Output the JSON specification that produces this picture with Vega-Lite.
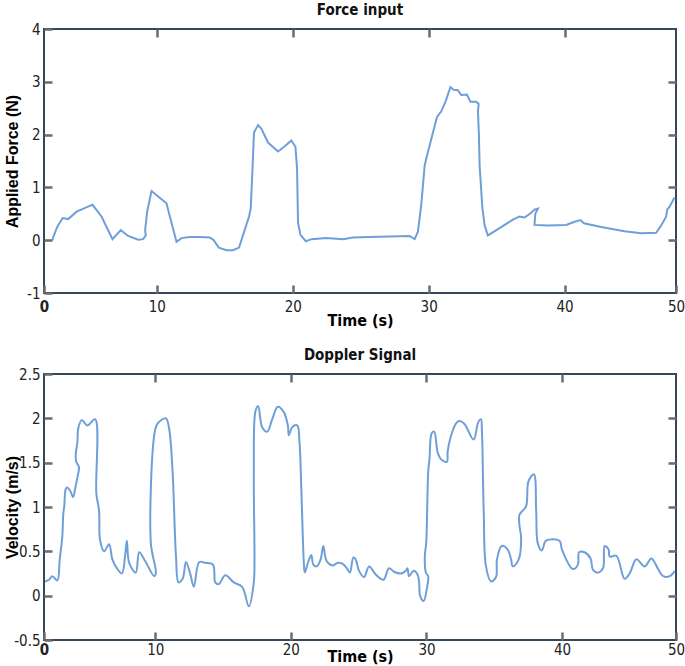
{
  "$schema": "https://vega.github.io/schema/vega-lite/v6.json",
  "padding": {"left": 3, "top": 2, "right": 0, "bottom": 0},
  "background": "white",
  "config": {
    "view": {"stroke": "#34485c", "strokeWidth": 2},
    "font": "DejaVu Sans Condensed",
    "axis": {
      "grid": false,
      "domain": false,
      "tickColor": "#6b6b6b",
      "tickWidth": 2.5,
      "tickSize": -8,
      "labelFont": "DejaVu Sans Condensed",
      "labelFontSize": 15,
      "labelColor": "#222222",
      "titleColor": "#000000"
    },
    "title": {"font": "DejaVu Sans Condensed", "fontSize": 15, "fontWeight": "bold", "color": "#111111", "frame": "group", "offset": 4}
  },
  "datasets": {
    "force": [
      {"i":0,"t":2.33,"v":0.0},{"i":1,"t":2.37,"v":0.05},{"i":2,"t":2.67,"v":0.25},{"i":3,"t":3.07,"v":0.42},{"i":4,"t":3.48,"v":0.40},{"i":5,"t":4.10,"v":0.54},{"i":6,"t":5.07,"v":0.65},{"i":7,"t":5.27,"v":0.67},{"i":8,"t":5.93,"v":0.45},{"i":9,"t":6.74,"v":0.02},{"i":10,"t":7.35,"v":0.19},{"i":11,"t":7.89,"v":0.08},{"i":12,"t":8.63,"v":0.01},{"i":13,"t":8.99,"v":0.02},{"i":14,"t":9.19,"v":0.09},{"i":15,"t":9.14,"v":0.19},{"i":16,"t":9.29,"v":0.54},{"i":17,"t":9.61,"v":0.93},{"i":18,"t":10.71,"v":0.70},{"i":19,"t":11.08,"v":0.33},{"i":20,"t":11.45,"v":-0.03},{"i":21,"t":11.82,"v":0.04},{"i":22,"t":12.43,"v":0.06},{"i":23,"t":13.16,"v":0.06},{"i":24,"t":13.90,"v":0.05},{"i":25,"t":14.19,"v":0.0},{"i":26,"t":14.56,"v":-0.14},{"i":27,"t":15.13,"v":-0.19},{"i":28,"t":15.61,"v":-0.19},{"i":29,"t":16.05,"v":-0.14},{"i":30,"t":16.35,"v":0.10},{"i":31,"t":16.79,"v":0.45},{"i":32,"t":16.91,"v":0.60},{"i":33,"t":17.04,"v":1.35},{"i":34,"t":17.15,"v":2.04},{"i":35,"t":17.45,"v":2.18},{"i":36,"t":17.70,"v":2.11},{"i":37,"t":18.18,"v":1.85},{"i":38,"t":18.92,"v":1.68},{"i":39,"t":19.41,"v":1.78},{"i":40,"t":19.90,"v":1.89},{"i":41,"t":20.20,"v":1.77},{"i":42,"t":20.32,"v":1.35},{"i":43,"t":20.39,"v":0.33},{"i":44,"t":20.57,"v":0.10},{"i":45,"t":20.96,"v":-0.02},{"i":46,"t":21.38,"v":0.02},{"i":47,"t":22.48,"v":0.04},{"i":48,"t":23.70,"v":0.02},{"i":49,"t":24.43,"v":0.05},{"i":50,"t":25.66,"v":0.06},{"i":51,"t":28.60,"v":0.08},{"i":52,"t":28.97,"v":0.02},{"i":53,"t":29.21,"v":0.16},{"i":54,"t":29.46,"v":0.68},{"i":55,"t":29.71,"v":1.42},{"i":56,"t":29.88,"v":1.60},{"i":57,"t":30.20,"v":1.92},{"i":58,"t":30.61,"v":2.33},{"i":59,"t":30.93,"v":2.44},{"i":60,"t":31.25,"v":2.63},{"i":61,"t":31.60,"v":2.90},{"i":62,"t":31.84,"v":2.85},{"i":63,"t":32.15,"v":2.84},{"i":64,"t":32.40,"v":2.75},{"i":65,"t":32.82,"v":2.76},{"i":66,"t":33.07,"v":2.62},{"i":67,"t":33.51,"v":2.62},{"i":68,"t":33.68,"v":2.58},{"i":69,"t":33.63,"v":2.44},{"i":70,"t":33.70,"v":1.98},{"i":71,"t":33.75,"v":1.42},{"i":72,"t":33.95,"v":0.62},{"i":73,"t":34.12,"v":0.28},{"i":74,"t":34.36,"v":0.09},{"i":75,"t":35.22,"v":0.23},{"i":76,"t":36.20,"v":0.39},{"i":77,"t":36.69,"v":0.45},{"i":78,"t":37.06,"v":0.43},{"i":79,"t":37.50,"v":0.51},{"i":80,"t":37.79,"v":0.58},{"i":81,"t":38.04,"v":0.60},{"i":82,"t":37.85,"v":0.50},{"i":83,"t":37.79,"v":0.29},{"i":84,"t":38.77,"v":0.28},{"i":85,"t":40.12,"v":0.29},{"i":86,"t":40.74,"v":0.35},{"i":87,"t":41.18,"v":0.38},{"i":88,"t":41.42,"v":0.32},{"i":89,"t":42.70,"v":0.25},{"i":90,"t":44.41,"v":0.17},{"i":91,"t":45.64,"v":0.13},{"i":92,"t":46.74,"v":0.14},{"i":93,"t":47.11,"v":0.28},{"i":94,"t":47.48,"v":0.45},{"i":95,"t":47.55,"v":0.58},{"i":96,"t":47.74,"v":0.64},{"i":97,"t":48.09,"v":0.81}
    ],
    "vel": [
      {"i":0,"t":1.87,"v":0.16},{"i":1,"t":2.17,"v":0.18},{"i":2,"t":2.41,"v":0.22},{"i":3,"t":2.78,"v":0.17},{"i":4,"t":2.96,"v":0.41},{"i":5,"t":3.15,"v":0.67},{"i":6,"t":3.22,"v":0.92},{"i":7,"t":3.30,"v":1.02},{"i":8,"t":3.40,"v":1.20},{"i":9,"t":3.52,"v":1.22},{"i":10,"t":3.77,"v":1.17},{"i":11,"t":3.94,"v":1.11},{"i":12,"t":4.14,"v":1.24},{"i":13,"t":4.31,"v":1.37},{"i":14,"t":4.38,"v":1.45},{"i":15,"t":4.18,"v":1.51},{"i":16,"t":4.14,"v":1.59},{"i":17,"t":4.26,"v":1.73},{"i":18,"t":4.33,"v":1.89},{"i":19,"t":4.58,"v":1.98},{"i":20,"t":5.00,"v":1.92},{"i":21,"t":5.57,"v":1.99},{"i":22,"t":5.66,"v":1.15},{"i":23,"t":5.86,"v":0.96},{"i":24,"t":5.93,"v":0.63},{"i":25,"t":6.23,"v":0.50},{"i":26,"t":6.60,"v":0.58},{"i":27,"t":6.84,"v":0.41},{"i":28,"t":7.17,"v":0.31},{"i":29,"t":7.54,"v":0.25},{"i":30,"t":7.78,"v":0.45},{"i":31,"t":7.91,"v":0.62},{"i":32,"t":8.08,"v":0.37},{"i":33,"t":8.57,"v":0.26},{"i":34,"t":8.82,"v":0.49},{"i":35,"t":9.26,"v":0.39},{"i":36,"t":9.93,"v":0.22},{"i":37,"t":10.05,"v":0.26},{"i":38,"t":9.68,"v":0.59},{"i":39,"t":9.93,"v":1.81},{"i":40,"t":10.17,"v":1.94},{"i":41,"t":10.79,"v":2.00},{"i":42,"t":11.03,"v":1.88},{"i":43,"t":11.28,"v":1.40},{"i":44,"t":11.53,"v":0.45},{"i":45,"t":11.72,"v":0.15},{"i":46,"t":12.02,"v":0.19},{"i":47,"t":12.27,"v":0.38},{"i":48,"t":12.56,"v":0.26},{"i":49,"t":12.85,"v":0.10},{"i":50,"t":13.25,"v":0.38},{"i":51,"t":13.70,"v":0.37},{"i":52,"t":14.26,"v":0.35},{"i":53,"t":14.43,"v":0.15},{"i":54,"t":14.68,"v":0.13},{"i":55,"t":15.17,"v":0.23},{"i":56,"t":15.79,"v":0.15},{"i":57,"t":16.41,"v":0.10},{"i":58,"t":16.90,"v":-0.12},{"i":59,"t":17.27,"v":0.15},{"i":60,"t":17.32,"v":0.37},{"i":61,"t":17.27,"v":1.40},{"i":62,"t":17.39,"v":2.08},{"i":63,"t":17.59,"v":2.14},{"i":64,"t":17.89,"v":1.90},{"i":65,"t":18.26,"v":1.85},{"i":66,"t":18.63,"v":1.99},{"i":67,"t":19.04,"v":2.13},{"i":68,"t":19.48,"v":2.07},{"i":69,"t":19.78,"v":1.92},{"i":70,"t":19.85,"v":1.81},{"i":71,"t":20.10,"v":1.90},{"i":72,"t":20.47,"v":1.92},{"i":73,"t":20.64,"v":1.73},{"i":74,"t":20.77,"v":1.22},{"i":75,"t":20.96,"v":0.37},{"i":76,"t":21.03,"v":0.26},{"i":77,"t":21.26,"v":0.37},{"i":78,"t":21.51,"v":0.46},{"i":79,"t":21.66,"v":0.35},{"i":80,"t":21.90,"v":0.33},{"i":81,"t":22.20,"v":0.41},{"i":82,"t":22.39,"v":0.56},{"i":83,"t":22.64,"v":0.39},{"i":84,"t":23.06,"v":0.34},{"i":85,"t":23.47,"v":0.37},{"i":86,"t":23.80,"v":0.36},{"i":87,"t":24.17,"v":0.30},{"i":88,"t":24.36,"v":0.26},{"i":89,"t":24.61,"v":0.43},{"i":90,"t":24.78,"v":0.41},{"i":91,"t":25.03,"v":0.28},{"i":92,"t":25.40,"v":0.21},{"i":93,"t":25.77,"v":0.33},{"i":94,"t":26.26,"v":0.24},{"i":95,"t":26.83,"v":0.18},{"i":96,"t":27.24,"v":0.31},{"i":97,"t":27.61,"v":0.27},{"i":98,"t":28.11,"v":0.25},{"i":99,"t":28.48,"v":0.28},{"i":100,"t":28.60,"v":0.31},{"i":101,"t":28.72,"v":0.22},{"i":102,"t":29.05,"v":0.28},{"i":103,"t":29.34,"v":0.24},{"i":104,"t":29.46,"v":0.15},{"i":105,"t":29.53,"v":0.0},{"i":106,"t":29.79,"v":-0.06},{"i":107,"t":30.03,"v":0.08},{"i":108,"t":30.13,"v":0.22},{"i":109,"t":29.96,"v":0.26},{"i":110,"t":29.88,"v":0.45},{"i":111,"t":29.98,"v":0.59},{"i":112,"t":30.13,"v":1.40},{"i":113,"t":30.23,"v":1.55},{"i":114,"t":30.38,"v":1.83},{"i":115,"t":30.57,"v":1.85},{"i":116,"t":30.82,"v":1.62},{"i":117,"t":31.06,"v":1.54},{"i":118,"t":31.51,"v":1.51},{"i":119,"t":31.56,"v":1.62},{"i":120,"t":31.75,"v":1.77},{"i":121,"t":32.17,"v":1.94},{"i":122,"t":32.42,"v":1.97},{"i":123,"t":32.79,"v":1.94},{"i":124,"t":33.48,"v":1.76},{"i":125,"t":33.82,"v":1.96},{"i":126,"t":34.02,"v":1.99},{"i":127,"t":34.09,"v":1.86},{"i":128,"t":34.22,"v":0.96},{"i":129,"t":34.39,"v":0.33},{"i":130,"t":34.76,"v":0.16},{"i":131,"t":35.13,"v":0.21},{"i":132,"t":35.20,"v":0.41},{"i":133,"t":35.55,"v":0.56},{"i":134,"t":35.99,"v":0.52},{"i":135,"t":36.24,"v":0.41},{"i":136,"t":36.36,"v":0.33},{"i":137,"t":36.78,"v":0.40},{"i":138,"t":36.98,"v":0.65},{"i":139,"t":36.85,"v":0.80},{"i":140,"t":36.85,"v":0.91},{"i":141,"t":36.98,"v":0.94},{"i":142,"t":37.35,"v":1.01},{"i":143,"t":37.52,"v":1.29},{"i":144,"t":37.92,"v":1.37},{"i":145,"t":38.09,"v":0.96},{"i":146,"t":38.21,"v":0.59},{"i":147,"t":38.51,"v":0.51},{"i":148,"t":38.82,"v":0.62},{"i":149,"t":39.81,"v":0.62},{"i":150,"t":39.99,"v":0.52},{"i":151,"t":40.80,"v":0.30},{"i":152,"t":41.17,"v":0.35},{"i":153,"t":41.25,"v":0.49},{"i":154,"t":41.66,"v":0.49},{"i":155,"t":42.10,"v":0.42},{"i":156,"t":42.28,"v":0.29},{"i":157,"t":42.65,"v":0.26},{"i":158,"t":43.02,"v":0.31},{"i":159,"t":43.14,"v":0.56},{"i":160,"t":43.43,"v":0.52},{"i":161,"t":43.51,"v":0.44},{"i":162,"t":44.00,"v":0.45},{"i":163,"t":44.61,"v":0.19},{"i":164,"t":44.98,"v":0.25},{"i":165,"t":45.48,"v":0.41},{"i":166,"t":46.09,"v":0.33},{"i":167,"t":46.59,"v":0.42},{"i":168,"t":47.08,"v":0.30},{"i":169,"t":47.45,"v":0.22},{"i":170,"t":47.94,"v":0.22},{"i":171,"t":48.31,"v":0.28}
    ]
  },
  "spacing": 18,
  "resolve": {"scale": {"x": "independent", "y": "independent"}},
  "vconcat": [
    {
      "title": {"text": "Force input"},
      "width": 632,
      "height": 264,
      "data": {"name": "force"},
      "resolve": {"axis": {"x": "independent", "y": "independent"}},
      "layer": [
        {
          "mark": {"type": "line", "color": "#6f9fd8", "strokeWidth": 2},
          "encoding": {
            "x": {"field": "t", "type": "quantitative",
              "scale": {"domain": [1.7, 48.2], "nice": false, "zero": false},
              "axis": {"orient": "bottom", "values": [1.7, 10, 20, 30, 40, 48.2],
                "labelExpr": "datum.value < 5 ? '0' : datum.value > 45 ? '50' : datum.label",
                "labelFlush": false, "labelOverlap": false, "labelPadding": 14,
                "labelFontWeight": {"condition": {"test": "datum.value < 5", "value": "bold"}, "value": "normal"},
                "title": "Time (s)", "titleFont": "DejaVu Sans Condensed", "titleFontSize": 16, "titleFontWeight": "bold",
                "titleY": 27, "titleBaseline": "middle"}},
            "y": {"field": "v", "type": "quantitative",
              "scale": {"domain": [-1, 4], "nice": false},
              "axis": {"orient": "left", "values": [-1, 0, 1, 2, 3, 4], "format": "~g",
                "labelExpr": "replace(datum.label, '−', '-')", "labelPadding": 12,
                "title": "Applied Force (N)", "titleFont": "Liberation Sans", "titleFontSize": 16, "titleFontWeight": "bold",
                "titleX": -32, "titleBaseline": "middle"}},
            "order": {"field": "i", "type": "quantitative"}
          }
        },
        {
          "mark": {"type": "line", "opacity": 0},
          "encoding": {
            "x": {"field": "t", "type": "quantitative",
              "axis": {"orient": "top", "values": [10, 20, 30, 40], "labels": false, "title": null}},
            "y": {"field": "v", "type": "quantitative",
              "axis": {"orient": "right", "values": [0, 1, 2, 3], "labels": false, "title": null}},
            "order": {"field": "i", "type": "quantitative"}
          }
        }
      ]
    },
    {
      "title": {"text": "Doppler Signal"},
      "width": 632,
      "height": 266,
      "data": {"name": "vel"},
      "resolve": {"axis": {"x": "independent", "y": "independent"}},
      "layer": [
        {
          "mark": {"type": "line", "color": "#6f9fd8", "strokeWidth": 2, "interpolate": "catmull-rom"},
          "encoding": {
            "x": {"field": "t", "type": "quantitative",
              "scale": {"domain": [1.8, 48.4], "nice": false, "zero": false},
              "axis": {"orient": "bottom", "values": [1.8, 10, 20, 30, 40, 48.4],
                "labelExpr": "datum.value < 5 ? '0' : datum.value > 45 ? '50' : datum.label",
                "labelFlush": false, "labelOverlap": false, "labelPadding": 10,
                "labelFontWeight": {"condition": {"test": "datum.value < 5", "value": "bold"}, "value": "normal"},
                "title": "Time (s)", "titleFont": "DejaVu Sans Condensed", "titleFontSize": 16, "titleFontWeight": "bold",
                "titleY": 16, "titleBaseline": "middle"}},
            "y": {"field": "v", "type": "quantitative",
              "scale": {"domain": [-0.5, 2.5], "nice": false},
              "axis": {"orient": "left", "values": [-0.5, 0, 0.5, 1, 1.5, 2, 2.5], "format": "~g",
                "labelExpr": "replace(datum.label, '−', '-')", "labelPadding": 12,
                "title": "Velocity (m/s)", "titleFont": "Liberation Sans", "titleFontSize": 16, "titleFontWeight": "bold",
                "titleX": -32, "titleBaseline": "middle"}},
            "order": {"field": "i", "type": "quantitative"}
          }
        },
        {
          "mark": {"type": "line", "opacity": 0},
          "encoding": {
            "x": {"field": "t", "type": "quantitative",
              "axis": {"orient": "top", "values": [10, 20, 30, 40], "labels": false, "title": null}},
            "y": {"field": "v", "type": "quantitative",
              "axis": {"orient": "right", "values": [0, 0.5, 1, 1.5, 2], "labels": false, "title": null}},
            "order": {"field": "i", "type": "quantitative"}
          }
        }
      ]
    }
  ]
}
